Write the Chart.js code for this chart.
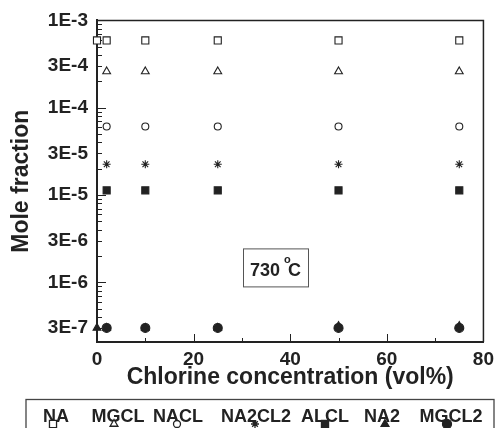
<!DOCTYPE html>
<html>
<head>
<meta charset="utf-8">
<script src="https://cdn.jsdelivr.net/npm/chart.js@4.4.0/dist/chart.umd.min.js"></script>
<style>
  html, body { margin: 0; padding: 0; background: #fff; }
</style>
</head>
<body>
<canvas id="myChart" width="500" height="428"></canvas>
<script>
// chlorine concentration (vol%) of the runs
const chlorine = [2, 10, 25, 50, 75];
// NA and NA2 also have a point on the axis (0 vol%)
const chlorineWith0 = [0, 2, 10, 25, 50, 75];

// mole fractions
const NA = [5.9e-4, 5.9e-4, 5.9e-4, 5.9e-4, 5.9e-4, 5.9e-4];
const MGCL = [2.6e-4, 2.6e-4, 2.6e-4, 2.6e-4, 2.6e-4];
const NACL = [6.1e-5, 6.1e-5, 6.1e-5, 6.1e-5, 6.1e-5];
const NA2CL2 = [2.25e-5, 2.25e-5, 2.25e-5, 2.25e-5, 2.25e-5];
const ALCL = [1.13e-5, 1.13e-5, 1.13e-5, 1.13e-5, 1.13e-5];
const NA2 = [3.0e-7, 3.0e-7, 3.0e-7, 3.0e-7, 3.15e-7, 3.15e-7];
const MGCL2 = [3.0e-7, 3.0e-7, 3.0e-7, 3.0e-7, 3.0e-7];

const seriesNames = ["NA", "MGCL", "NACL", "NA2CL2", "ALCL", "NA2", "MGCL2"];

// axis ticks
const xTickValues = [0, 20, 40, 60, 80];
const yTickValues = [1e-3, 3e-4, 1e-4, 3e-5, 1e-5, 3e-6, 1e-6, 3e-7];
const yTickLabels = ["1E-3", "3E-4", "1E-4", "3E-5", "1E-5", "3E-6", "1E-6", "3E-7"];

const ink = "#222";
const fontFamily = "'Liberation Sans', Arial, sans-serif";

// marker look for each series (same order as seriesNames)
const markers = [
	{ pointStyle: "rect", radius: 5, fill: "#fff" },
	{ pointStyle: "triangle", radius: 4.5, fill: "#fff" },
	{ pointStyle: "circle", radius: 3.5, fill: "#fff" },
	{ pointStyle: "star", radius: 4, fill: "#fff" },
	{ pointStyle: "rect", radius: 5, fill: ink },
	{ pointStyle: "triangle", radius: 4.5, fill: ink },
	{ pointStyle: "circle", radius: 4.5, fill: ink },
];

// legend layout under the plot (text centre x, marker x)
const legendTextX = [56, 118, 178, 256, 325, 382, 451];
const legendMarkerX = [53, 114, 177, 255, 325, 385, 447];

function toPoints(xs, ys) {
	return ys.map((y, i) => ({ x: xs[i], y: y }));
}

function getDataSet(name, points, index, order) {
	const m = markers[index];
	return {
		label: name,
		data: points,
		showLine: false,
		pointStyle: m.pointStyle,
		pointRadius: m.radius,
		pointBackgroundColor: m.fill,
		pointBorderColor: ink,
		pointBorderWidth: 1.1,
		clip: false,
		order: order,
	};
}

var datasets = [
	getDataSet("NA", toPoints(chlorineWith0, NA), 0, 0),
	getDataSet("MGCL", toPoints(chlorine, MGCL), 1, 0),
	getDataSet("NACL", toPoints(chlorine, NACL), 2, 0),
	getDataSet("NA2CL2", toPoints(chlorine, NA2CL2), 3, 0),
	getDataSet("ALCL", toPoints(chlorine, ALCL), 4, 0),
	getDataSet("NA2", toPoints(chlorineWith0, NA2), 5, 1),
	// circles drawn over the triangles
	getDataSet("MGCL2", toPoints(chlorine, MGCL2), 6, -1),
];

// inward ticks, frame and the temperature box
const framePlugin = {
	id: "frame",
	beforeDatasetsDraw(chart) {
		const ctx = chart.ctx;
		const ca = chart.chartArea;
		const xs = chart.scales.x;
		const ys = chart.scales.y;
		ctx.save();
		ctx.strokeStyle = ink;
		ctx.lineWidth = 1.5;
		ctx.beginPath();
		ctx.moveTo(ca.left, ca.top);
		ctx.lineTo(ca.right, ca.top);
		ctx.lineTo(ca.right, ca.bottom);
		ctx.stroke();

		ctx.lineWidth = 1;
		ctx.beginPath();
		for (let e = -7; e <= -3; e++) {
			for (let k = 1; k <= 9; k++) {
				const v = k * Math.pow(10, e);
				if (v < ys.min || v > ys.max) continue;
				const py = Math.round(ys.getPixelForValue(v)) + 0.5;
				const len = k === 1 ? 9 : 5;
				ctx.moveTo(ca.left, py);
				ctx.lineTo(ca.left + len, py);
			}
		}
		for (let v = 10; v < 80; v += 10) {
			const px = Math.round(xs.getPixelForValue(v)) + 0.5;
			const len = v % 20 === 0 ? 8 : 4;
			ctx.moveTo(px, ca.bottom);
			ctx.lineTo(px, ca.bottom - len);
		}
		ctx.stroke();

		// 730 °C box
		const bx = ca.left + 146;
		const by = ca.top + 228;
		ctx.strokeStyle = "#555";
		ctx.lineWidth = 1;
		ctx.strokeRect(bx + 0.5, by + 0.5, 65, 38);
		ctx.fillStyle = ink;
		ctx.textBaseline = "alphabetic";
		ctx.textAlign = "left";
		ctx.font = "bold 18px " + fontFamily;
		ctx.fillText("730", bx + 7, by + 28);
		ctx.font = "bold 11px " + fontFamily;
		ctx.fillText("o", bx + 41, by + 15);
		ctx.font = "bold 18px " + fontFamily;
		ctx.fillText("C", bx + 45, by + 28);
		ctx.restore();
	},
	afterDraw(chart) {
		const ctx = chart.ctx;
		ctx.save();
		// legend box
		ctx.strokeStyle = "#444";
		ctx.lineWidth = 1.3;
		ctx.strokeRect(26, 399.5, 468, 40);
		ctx.fillStyle = ink;
		ctx.font = "bold 18px " + fontFamily;
		ctx.textAlign = "center";
		ctx.textBaseline = "alphabetic";
		for (let i = 0; i < seriesNames.length; i++) {
			ctx.fillText(seriesNames[i], legendTextX[i], 422);
		}
		for (let i = 0; i < seriesNames.length; i++) {
			const m = markers[i];
			ctx.fillStyle = m.fill;
			ctx.strokeStyle = ink;
			Chart.helpers.drawPoint(ctx, { pointStyle: m.pointStyle, radius: m.radius, borderWidth: 1.1, rotation: 0 }, legendMarkerX[i], 424);
		}
		ctx.restore();
	},
};

var ctx = document.getElementById("myChart").getContext("2d");
var chartCanvas = new Chart(ctx, {
	type: "scatter",
	data: { datasets: datasets },
	options: {
		responsive: false,
		animation: false,
		layout: { padding: { top: 19, right: 13, left: 0, bottom: 0 } },
		plugins: {
			legend: { display: false },
			tooltip: { enabled: false },
		},
		scales: {
			x: {
				type: "linear",
				min: 0,
				max: 80,
				afterBuildTicks: (s) => { s.ticks = xTickValues.map((v) => ({ value: v })); },
				ticks: { font: { family: fontFamily, size: 19, weight: "bold" }, color: ink, padding: 6, maxRotation: 0, autoSkip: false },
				grid: { drawOnChartArea: false, drawTicks: false },
				border: { color: ink, width: 2 },
				title: {
					display: true,
					text: "Chlorine concentration (vol%)",
					font: { family: fontFamily, size: 23, weight: "bold" },
					color: ink,
					padding: { top: 0, bottom: 37 },
				},
				afterFit: (s) => { s.height = 86; },
			},
			y: {
				type: "logarithmic",
				min: 2.07e-7,
				max: 1e-3,
				afterBuildTicks: (s) => { s.ticks = yTickValues.map((v) => ({ value: v })); },
				ticks: {
					callback: (v, i) => yTickLabels[i],
					font: { family: fontFamily, size: 19, weight: "bold" },
					color: ink,
					padding: 9,
					autoSkip: false,
				},
				grid: { drawOnChartArea: false, drawTicks: false },
				border: { color: ink, width: 2 },
				title: {
					display: true,
					text: "Mole fraction",
					font: { family: fontFamily, size: 23, weight: "bold" },
					color: ink,
					padding: { top: 8, bottom: 0 },
				},
				afterFit: (s) => { s.width = 97; },
			},
		},
	},
	plugins: [framePlugin],
});
</script>
</body>
</html>
